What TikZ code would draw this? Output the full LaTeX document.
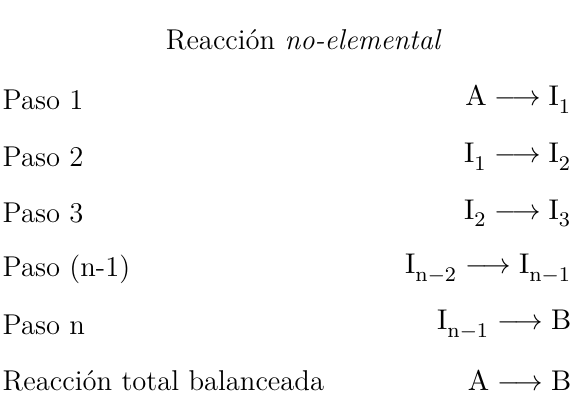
\documentclass[tikz,border=0pt]{standalone}
\usepackage{amsmath}
\newcommand{\esp}[2]{\mathrm{#1}^{}_{#2}}
\begin{document}
\begin{tikzpicture}[
    every node/.style={font=\fontsize{11}{13}\selectfont},
    paso/.style={anchor=west, inner sep=0pt},
    reac/.style={anchor=east, inner sep=0pt},
    titulo/.style={inner sep=0pt}
]
    \useasboundingbox (0,0) rectangle (7.75,-5.33);

    \node[titulo] (T) at (4.1,-0.54) {Reacción \textit{no-elemental}};

    \node[paso] (P1) at (0.03,-1.35) {Paso 1};
    \node[paso] (P2) at (0.03,-2.12) {Paso 2};
    \node[paso] (P3) at (0.03,-2.88) {Paso 3};
    \node[paso] (P4) at (0.03,-3.63) {Paso (n-1)};
    \node[paso] (P5) at (0.03,-4.39) {Paso n};
    \node[paso] (P6) at (0.03,-5.14) {Reacción total balanceada};

    \node[reac] (R1) at (7.72,-1.35) {$\mathrm{A}\longrightarrow\esp{I}{1}$};
    \node[reac] (R2) at (7.72,-2.12) {$\esp{I}{1}\longrightarrow\esp{I}{2}$};
    \node[reac] (R3) at (7.72,-2.88) {$\esp{I}{2}\longrightarrow\esp{I}{3}$};
    \node[reac] (R4) at (7.72,-3.63) {$\esp{I}{\mathrm{n}-2}\longrightarrow\esp{I}{\mathrm{n}-1}$};
    \node[reac] (R5) at (7.72,-4.39) {$\esp{I}{\mathrm{n}-1}\longrightarrow\mathrm{B}$};
    \node[reac] (R6) at (7.72,-5.14) {$\mathrm{A}\longrightarrow\mathrm{B}$};
\end{tikzpicture}
\end{document}
